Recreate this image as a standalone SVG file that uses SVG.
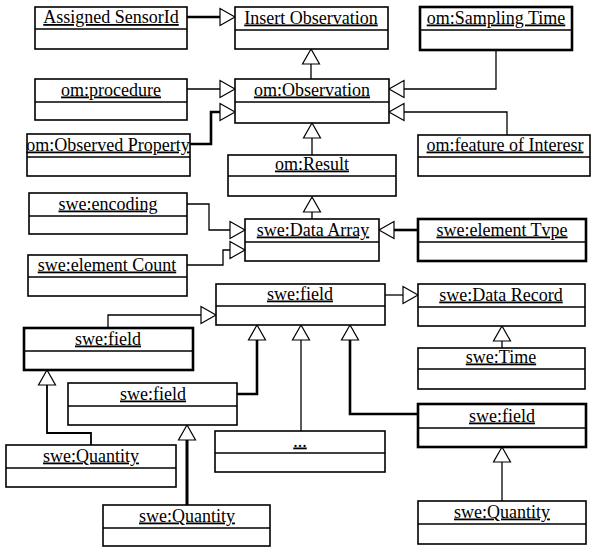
<svg xmlns="http://www.w3.org/2000/svg" xmlns:xlink="http://www.w3.org/1999/xlink" width="593" height="547" viewBox="0 0 593 547">
<style>
.box{fill:#fff;stroke:#000;stroke-width:1.6}
.thick{stroke-width:2.6}
.div{stroke:#000;stroke-width:1.6}
.t{font-family:"Liberation Serif","Times New Roman",serif;font-size:18px;text-anchor:middle;text-decoration:underline;fill:#000}
.c{fill:none;stroke:#000;stroke-width:1.3}
.cb{fill:none;stroke:#000;stroke-width:2.6}
.tri{fill:#fff;stroke:#000;stroke-width:1.2}
</style>
<defs>
<polygon id="tri" class="tri" points="0,0 -8.5,15 8.5,15"/>
</defs>
<rect width="593" height="547" fill="#fff"/>

<g id="connectors">
<line class="cb" x1="187" y1="17" x2="220" y2="17"/>
<use xlink:href="#tri" transform="translate(235,17) rotate(90)"/>
<line class="c" x1="311" y1="64" x2="311" y2="79"/>
<use xlink:href="#tri" transform="translate(311,49)"/>
<line class="c" x1="187" y1="89" x2="220" y2="89"/>
<use xlink:href="#tri" transform="translate(235,89) rotate(90)"/>
<polyline class="cb" points="190,144 211,144 211,112 220,112"/>
<use xlink:href="#tri" transform="translate(235,112) rotate(90)"/>
<polyline class="c" points="496,50 496,89 404,89"/>
<use xlink:href="#tri" transform="translate(389,89) rotate(-90)"/>
<polyline class="c" points="507,135 507,112 404,112"/>
<use xlink:href="#tri" transform="translate(389,112) rotate(-90)"/>
<line class="c" x1="312" y1="138" x2="312" y2="155"/>
<use xlink:href="#tri" transform="translate(312,123)"/>
<line class="c" x1="312" y1="212" x2="312" y2="219"/>
<use xlink:href="#tri" transform="translate(312,197)"/>
<polyline class="c" points="187,204 209,204 209,230 230,230"/>
<use xlink:href="#tri" transform="translate(245,230) rotate(90)"/>
<polyline class="c" points="187,265 223,265 223,250 230,250"/>
<use xlink:href="#tri" transform="translate(245,250) rotate(90)"/>
<line class="cb" x1="394" y1="230" x2="418" y2="230"/>
<use xlink:href="#tri" transform="translate(379,230) rotate(-90)"/>
<line class="c" x1="385" y1="295" x2="403" y2="295"/>
<use xlink:href="#tri" transform="translate(418,295) rotate(90)"/>
<line class="c" x1="502" y1="341" x2="502" y2="348"/>
<use xlink:href="#tri" transform="translate(502,326)"/>
<polyline class="c" points="108,328 108,315 201,315"/>
<use xlink:href="#tri" transform="translate(216,315) rotate(90)"/>
<polyline class="cb" points="257,340 257,394 237,394"/>
<use xlink:href="#tri" transform="translate(257,325)"/>
<line class="c" x1="301" y1="340" x2="301" y2="431"/>
<use xlink:href="#tri" transform="translate(301,325)"/>
<polyline class="cb" points="350,340 350,414 418,414"/>
<use xlink:href="#tri" transform="translate(350,325)"/>
<line class="c" x1="502" y1="462" x2="502" y2="501"/>
<use xlink:href="#tri" transform="translate(502,447)"/>
<polyline class="c" style="stroke-width:1.8" points="47,385 47,433 91,433 91,445"/>
<use xlink:href="#tri" transform="translate(47,370)"/>
<line class="cb" style="stroke-width:3" x1="187" y1="440" x2="187" y2="505"/>
<use xlink:href="#tri" transform="translate(187,425)"/>
</g>

<g id="assigned-sensorid"><rect class="box" x="35" y="7" width="152" height="42"/><line class="div" x1="35" y1="29" x2="187" y2="29"/><text class="t" x="111" y="23">Assigned SensorId</text></g>
<g id="insert-observation"><rect class="box" x="235" y="7" width="153" height="42"/><line class="div" x1="235" y1="30" x2="388" y2="30"/><text class="t" x="311" y="23.5">Insert Observation</text></g>
<g id="om-sampling-time"><rect class="box thick" x="420" y="7" width="152" height="43"/><line class="div" x1="420" y1="30" x2="572" y2="30"/><text class="t" x="496" y="23.5">om:Sampling Time</text></g>
<g id="om-procedure"><rect class="box" x="35" y="79" width="152" height="41"/><line class="div" x1="35" y1="102" x2="187" y2="102"/><text class="t" x="111" y="95.5">om:procedure</text></g>
<g id="om-observation"><rect class="box" x="235" y="79" width="154" height="44"/><line class="div" x1="235" y1="102" x2="389" y2="102"/><text class="t" x="312" y="95.5">om:Observation</text></g>
<g id="om-observed-property"><rect class="box" x="27" y="134" width="163" height="42"/><line class="div" x1="27" y1="157" x2="190" y2="157"/><text class="t" x="108" y="150.5">om:Observed Property</text></g>
<g id="om-feature-of-interest"><rect class="box" x="418" y="135" width="172" height="41"/><line class="div" x1="418" y1="157" x2="590" y2="157"/><text class="t" x="505" y="150.5">om:feature of Interesr</text></g>
<g id="om-result"><rect class="box" x="228" y="155" width="168" height="41"/><line class="div" x1="228" y1="176" x2="396" y2="176"/><text class="t" x="312" y="169.5">om:Result</text></g>
<g id="swe-encoding"><rect class="box" x="29" y="193" width="158" height="41"/><line class="div" x1="29" y1="216" x2="187" y2="216"/><text class="t" x="108" y="209.5">swe:encoding</text></g>
<g id="swe-element-count"><rect class="box" x="28" y="255" width="159" height="41"/><line class="div" x1="28" y1="277" x2="187" y2="277"/><text class="t" x="107" y="270.5">swe:element Count</text></g>
<g id="swe-data-array"><rect class="box" x="245" y="219" width="134" height="42"/><line class="div" x1="245" y1="242" x2="379" y2="242"/><text class="t" x="313" y="235.5">swe:Data Array</text></g>
<g id="swe-element-type"><rect class="box thick" x="418" y="219" width="168" height="42"/><line class="div" x1="418" y1="242" x2="586" y2="242"/><text class="t" x="502" y="235.5">swe:element Tvpe</text></g>
<g id="swe-field-main"><rect class="box" x="216" y="284" width="169" height="41"/><line class="div" x1="216" y1="306" x2="385" y2="306"/><text class="t" x="300" y="299.5">swe:field</text></g>
<g id="swe-data-record"><rect class="box" x="418" y="284" width="167" height="42"/><line class="div" x1="418" y1="307" x2="585" y2="307"/><text class="t" x="501" y="300.5">swe:Data Record</text></g>
<g id="swe-time"><rect class="box" x="418" y="348" width="167" height="41"/><line class="div" x1="418" y1="369" x2="585" y2="369"/><text class="t" x="501" y="362.5">swe:Time</text></g>
<g id="swe-field-left"><rect class="box thick" x="24" y="328" width="169" height="42"/><line class="div" x1="24" y1="351" x2="193" y2="351"/><text class="t" x="108" y="344.5">swe:field</text></g>
<g id="swe-field-middle"><rect class="box" x="68" y="383" width="169" height="42"/><line class="div" x1="68" y1="406" x2="237" y2="406"/><text class="t" x="153" y="399.5">swe:field</text></g>
<g id="ellipsis"><rect class="box" x="215" y="431" width="170" height="41"/><line class="div" x1="215" y1="453" x2="385" y2="453"/><text class="t" x="300" y="446.5">...</text></g>
<g id="swe-field-right"><rect class="box thick" x="418" y="404" width="168" height="43"/><line class="div" x1="418" y1="428" x2="586" y2="428"/><text class="t" x="502" y="421.5">swe:field</text></g>
<g id="swe-quantity-left"><rect class="box" x="6" y="445" width="170" height="42"/><line class="div" x1="6" y1="468" x2="176" y2="468"/><text class="t" x="91" y="461.5">swe:Quantity</text></g>
<g id="swe-quantity-middle"><rect class="box" x="103" y="505" width="167" height="41"/><line class="div" x1="103" y1="528" x2="270" y2="528"/><text class="t" x="187" y="521.5">swe:Quantity</text></g>
<g id="swe-quantity-right"><rect class="box" x="418" y="501" width="168" height="43"/><line class="div" x1="418" y1="524" x2="586" y2="524"/><text class="t" x="502" y="517.5">swe:Quantity</text></g>
</svg>
